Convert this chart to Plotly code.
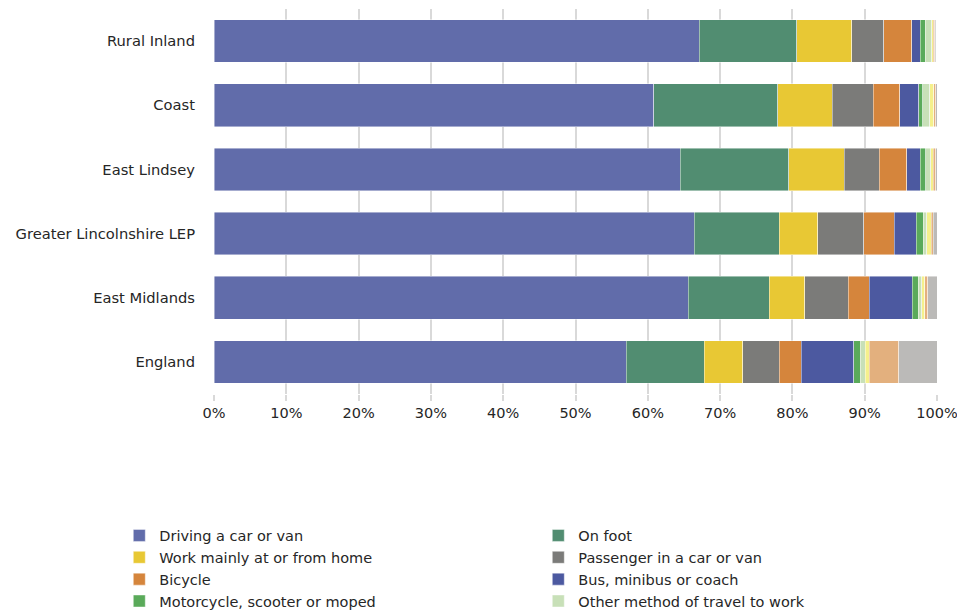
import plotly.graph_objects as go

categories = ["Rural Inland", "Coast", "East Lindsey", "Greater Lincolnshire LEP", "East Midlands", "England"]

series_names = [
    "Driving a car or van",
    "On foot",
    "Work mainly at or from home",
    "Passenger in a car or van",
    "Bicycle",
    "Bus, minibus or coach",
    "Motorcycle, scooter or moped",
    "Other method of travel to work",
    "Taxi",
    "Underground, metro, light rail, tram",
    "Train",
]

driving = [67.1, 60.8, 64.5, 66.4, 65.6, 57.0]
on_foot = [13.5, 17.2, 15.0, 11.8, 11.2, 10.8]
work_home = [7.6, 7.5, 7.7, 5.3, 4.9, 5.3]
passenger = [4.4, 5.7, 4.8, 6.4, 6.0, 5.1]
bicycle = [3.9, 3.65, 3.8, 4.2, 2.95, 3.0]
bus = [1.2, 2.65, 1.9, 3.0, 5.95, 7.3]
motorcycle = [0.7, 0.5, 0.75, 1.0, 0.8, 0.85]
other = [0.9, 1.0, 0.7, 0.5, 0.5, 0.75]
taxi = [0.2, 0.55, 0.35, 0.6, 0.4, 0.55]
underground = [0.2, 0.25, 0.3, 0.3, 0.4, 4.05]
train = [0.1, 0.2, 0.2, 0.5, 1.3, 5.3]

series_values = [driving, on_foot, work_home, passenger, bicycle, bus,
                 motorcycle, other, taxi, underground, train]

# the reference legend only shows the first eight entries (the rest fall below the page)
legend_visible = [True] * 8 + [False] * 3

colors = ["#616caa", "#518d71", "#e8c834", "#7b7b79", "#d5853c", "#4c59a0",
          "#5aaa5a", "#c8e0b8", "#f5f08c", "#e3b07e", "#bbbab8"]

tick_vals = [0, 10, 20, 30, 40, 50, 60, 70, 80, 90, 100]
tick_text = ["0%", "10%", "20%", "30%", "40%", "50%", "60%", "70%", "80%", "90%", "100%"]

FONT = "DejaVu Sans"
TXT = "#262626"

fig = go.Figure()
for name, vals, col, show in zip(series_names, series_values, colors, legend_visible):
    fig.add_trace(go.Bar(
        y=categories, x=vals, name=name, orientation="h",
        marker=dict(color=col, line=dict(color="rgba(255,255,255,0.55)", width=0.8)),
        showlegend=show,
        hoverinfo="name+x",
    ))

fig.update_layout(
    width=957, height=610,
    barmode="stack", bargap=0.334,
    plot_bgcolor="white", paper_bgcolor="white",
    margin=dict(l=214, r=20, t=9, b=216, autoexpand=False),
    font=dict(family=FONT, size=14.5, color=TXT),
    legend=dict(
        orientation="h", traceorder="normal",
        xref="paper", yref="paper",
        x=-0.131, xanchor="left",
        y=-0.326, yanchor="top",
        entrywidth=374, entrywidthmode="pixels",
        font=dict(family=FONT, size=14.5, color=TXT),
        bgcolor="rgba(0,0,0,0)",
    ),
    xaxis=dict(
        range=[0, 100], tickvals=tick_vals, ticktext=tick_text,
        showgrid=True, gridcolor="#d9d9d9", gridwidth=1.5,
        zeroline=False, showline=False,
        ticks="outside", ticklen=6, tickcolor="#d9d9d9", tickwidth=1.5,
        ticklabeloverflow="allow",
        tickfont=dict(family=FONT, size=14.5, color=TXT),
        fixedrange=True,
    ),
    yaxis=dict(
        autorange="reversed", showgrid=False, zeroline=False, showline=False,
        ticks="", ticklabelstandoff=18,
        tickfont=dict(family=FONT, size=14.7, color=TXT),
        fixedrange=True,
    ),
)

fig.write_html("out.html", config={"displayModeBar": False},
               post_script="document.body.style.margin='0px';")
